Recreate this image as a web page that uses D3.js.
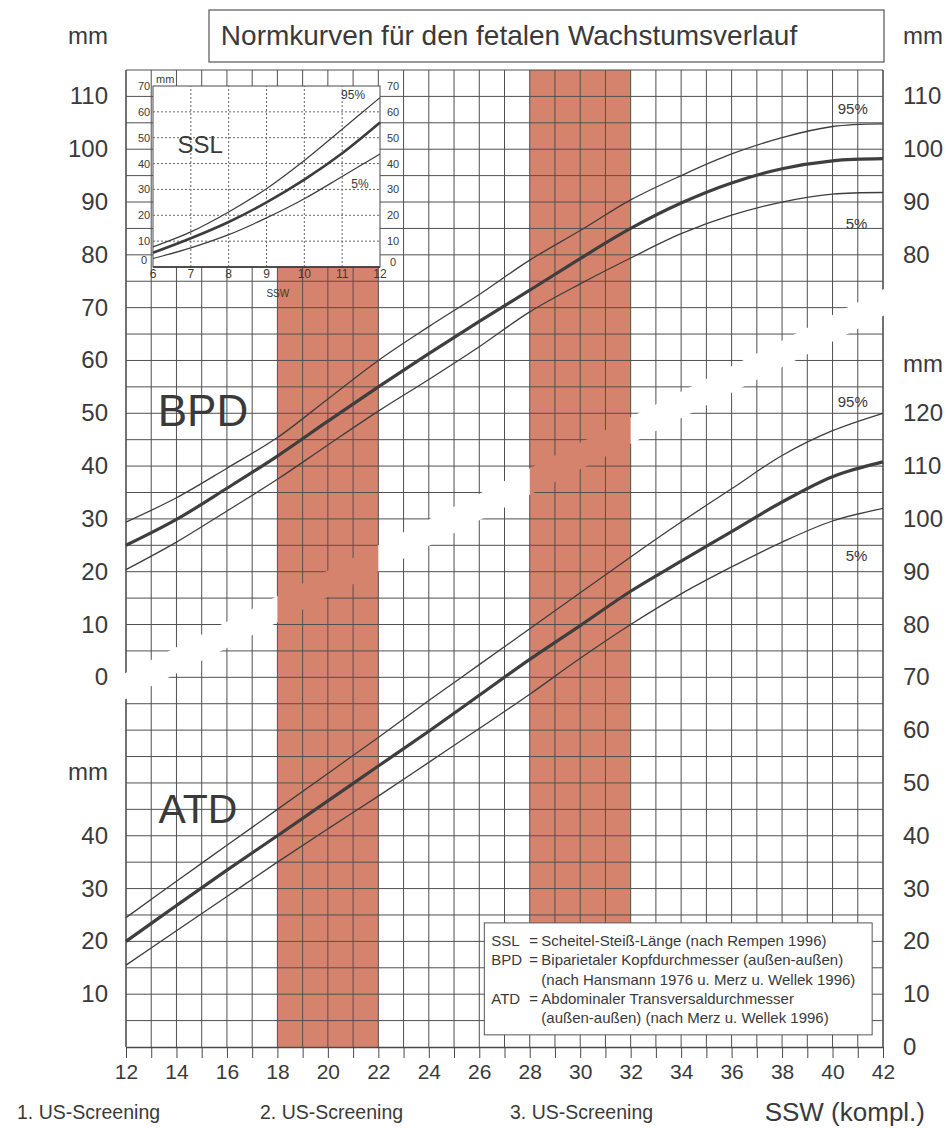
<!DOCTYPE html>
<html>
<head>
<meta charset="utf-8">
<script src="https://cdn.jsdelivr.net/npm/d3@7"></script>
<style>
  body { margin: 0; background: #fff; }
  svg text { font-family: "Liberation Sans", Arial, Helvetica, sans-serif; fill: #3a3a3a; }
</style>
</head>
<body>
<svg id="chart" width="951" height="1128"></svg>
<script>
// data (mm)
var weeks = [12, 14, 16, 18, 20, 22, 24, 26, 28, 30, 32, 34, 36, 38, 40, 42];

var bpd95 = [29.4, 34.0, 39.6, 45.4, 52.7, 60.0, 66.4, 72.5, 79.0, 84.6, 90.4, 95.0, 99.1, 102.2, 104.3, 104.8];
var bpd50 = [25.0, 29.9, 35.8, 41.9, 48.5, 55.0, 61.3, 67.4, 73.3, 79.3, 85.0, 89.8, 93.6, 96.3, 97.8, 98.2];
var bpd5  = [20.4, 25.6, 31.5, 37.5, 44.0, 50.4, 56.4, 62.6, 69.2, 74.5, 79.4, 84.0, 87.5, 90.0, 91.5, 91.8];

var atd95 = [24.5, 31.4, 38.2, 45.0, 51.8, 58.6, 65.6, 72.4, 79.2, 86.0, 92.8, 99.4, 105.7, 112.0, 116.7, 120.0];
var atd50 = [20.0, 26.8, 33.5, 40.0, 46.6, 53.2, 59.8, 66.6, 73.4, 79.8, 86.3, 92.0, 97.6, 103.2, 108.0, 110.8];
var atd5  = [15.5, 22.0, 28.5, 35.0, 41.3, 47.5, 53.9, 60.3, 66.8, 73.6, 80.0, 85.8, 90.9, 95.6, 99.6, 102.0];

var sslWeeks = [6, 7, 8, 9, 10, 11, 12];
var ssl95 = [7.8, 13.6, 21.3, 30.3, 41.2, 53.3, 65.5];
var ssl50 = [5.5, 11.1, 17.4, 25.0, 33.8, 44.0, 55.9];
var ssl5  = [3.3, 7.4, 12.5, 19.0, 26.4, 35.0, 43.7];

var bpdTicks = [0, 10, 20, 30, 40, 50, 60, 70, 80, 90, 100, 110];
var bpdTicksRight = [80, 90, 100, 110];
var atdTicksLeft = [10, 20, 30, 40];
var atdTicksRight = [0, 10, 20, 30, 40, 50, 60, 70, 80, 90, 100, 110, 120];
var weekLabels = [12, 14, 16, 18, 20, 22, 24, 26, 28, 30, 32, 34, 36, 38, 40, 42];
var sslTicks = [0, 10, 20, 30, 40, 50, 60, 70];

var screenings = [[18, 22], [28, 32]];
var screeningNames = ["1. US-Screening", "2. US-Screening", "3. US-Screening"];

var legendRows = [
  ["SSL", "=", "Scheitel-Steiß-Länge (nach Rempen 1996)"],
  ["BPD", "=", "Biparietaler Kopfdurchmesser (außen-außen)"],
  ["", "", "(nach Hansmann 1976 u. Merz u. Wellek 1996)"],
  ["ATD", "=", "Abdominaler Transversaldurchmesser"],
  ["", "", "(außen-außen) (nach Merz u. Wellek 1996)"]
];

var svg = d3.select("#chart");
var W = 951, H = 1128;

// one grid, ATD mm on it; BPD sits 70 mm higher
var x = d3.scaleLinear().domain([12, 42]).range([126, 883]);
var y = d3.scaleLinear().domain([0, 185]).range([1047, 70]);
var bpdShift = 70;
var yB = function (v) { return y(v + bpdShift); };

// inset scales
var xi = d3.scaleLinear().domain([6, 12]).range([153, 380]);
var yi = d3.scaleLinear().domain([0, 70]).range([267, 86]);

// the white diagonal gap that splits BPD and ATD parts of the grid
var gapFrom = [12, 68], gapTo = [42, 141.3], gapHalf = 2.5;

var defs = svg.append("defs");
var mask = defs.append("mask").attr("id", "gap")
  .attr("maskUnits", "userSpaceOnUse")
  .attr("x", 0).attr("y", 0).attr("width", W).attr("height", H);
mask.append("rect").attr("width", W).attr("height", H).attr("fill", "white");
mask.append("path").attr("fill", "black").attr("d",
  "M" + (x(gapFrom[0]) - 4) + "," + y(gapFrom[1] - gapHalf) +
  "L" + (x(gapTo[0]) + 4) + "," + y(gapTo[1] - gapHalf) +
  "L" + (x(gapTo[0]) + 4) + "," + y(gapTo[1] + gapHalf) +
  "L" + (x(gapFrom[0]) - 4) + "," + y(gapFrom[1] + gapHalf) + "Z");

// red screening bands
var bandTop1 = 147.9;  // just under the SSL inset
var legendTop = 23.5, legendBottom = 2.3, legendLeft = 26.2, legendRight = 41.57;
svg.append("rect")
  .attr("x", x(screenings[0][0])).attr("width", x(screenings[0][1]) - x(screenings[0][0]))
  .attr("y", y(bandTop1)).attr("height", y(0) - y(bandTop1))
  .attr("fill", "#d6836d");
svg.append("rect")
  .attr("x", x(screenings[1][0])).attr("width", x(screenings[1][1]) - x(screenings[1][0]))
  .attr("y", y(185)).attr("height", y(legendTop) - y(185))
  .attr("fill", "#d6836d");

// grid
var grid = svg.append("g").attr("mask", "url(#gap)").attr("stroke", "#505050").attr("stroke-width", 1);
grid.selectAll("line.v").data(d3.range(12, 43)).join("line").attr("class", "v")
  .attr("x1", function (d) { return x(d); }).attr("x2", function (d) { return x(d); })
  .attr("y1", y(0)).attr("y2", y(185))
  .attr("stroke-width", function (d) { return d === 12 || d === 42 ? 1.6 : 1; });
grid.selectAll("line.h").data(d3.range(5, 186, 5)).join("line").attr("class", "h")
  .attr("x1", x(12)).attr("x2", x(42))
  .attr("y1", function (d) { return y(d); }).attr("y2", function (d) { return y(d); });

// SSL inset
var inset = svg.append("g");
inset.append("rect").attr("x", xi(6)).attr("y", yi(70)).attr("width", xi(12) - xi(6)).attr("height", yi(0) - yi(70))
  .attr("fill", "#fff").attr("stroke", "#4a4a4a").attr("stroke-width", 1);
inset.selectAll("line.ih").data([10, 20, 30, 40, 50, 60]).join("line").attr("class", "ih")
  .attr("x1", xi(6)).attr("x2", xi(12)).attr("y1", function (d) { return yi(d); }).attr("y2", function (d) { return yi(d); })
  .attr("stroke", "#666").attr("stroke-dasharray", "2,2");
inset.selectAll("line.iv").data([7, 8, 9, 10, 11]).join("line").attr("class", "iv")
  .attr("x1", function (d) { return xi(d); }).attr("x2", function (d) { return xi(d); }).attr("y1", yi(0)).attr("y2", yi(70))
  .attr("stroke", "#666").attr("stroke-dasharray", "2,2");
inset.append("line").attr("x1", xi(6)).attr("x2", xi(12)).attr("y1", yi(0)).attr("y2", yi(0))
  .attr("stroke", "#333").attr("stroke-width", 1.4);

var sslLine = d3.line().x(function (d) { return xi(d[0]); }).y(function (d) { return yi(d[1]); }).curve(d3.curveCatmullRom);
[[ssl95, 1.2], [ssl50, 2.6], [ssl5, 1.2]].forEach(function (s) {
  inset.append("path").attr("d", sslLine(sslWeeks.map(function (w, i) { return [w, s[0][i]]; })))
    .attr("fill", "none").attr("stroke", "#3c3c3c").attr("stroke-width", s[1]);
});
inset.selectAll("text.il").data(sslTicks).join("text").attr("class", "il")
  .attr("x", xi(6) - 9).attr("y", function (d) { return d === 0 ? yi(d) - 3 : yi(d) + 4; })
  .attr("text-anchor", "middle").attr("font-size", 11).text(function (d) { return d; });
inset.selectAll("text.ir").data(sslTicks).join("text").attr("class", "ir")
  .attr("x", xi(12) + 13).attr("y", function (d) { return d === 0 ? yi(d) - 1 : yi(d) + 4; })
  .attr("text-anchor", "middle").attr("font-size", 11).text(function (d) { return d; });
inset.selectAll("text.ix").data(sslWeeks).join("text").attr("class", "ix")
  .attr("x", function (d) { return xi(d); }).attr("y", yi(0) + 11)
  .attr("text-anchor", "middle").attr("font-size", 12).text(function (d) { return d; });
inset.append("text").attr("x", xi(6) + 3).attr("y", yi(70) - 3).attr("font-size", 11).text("mm");
inset.append("text").attr("x", xi(9.3)).attr("y", yi(0) + 30).attr("text-anchor", "middle").attr("font-size", 10).text("SSW");
inset.append("text").attr("x", xi(7.25)).attr("y", yi(44)).attr("text-anchor", "middle").attr("font-size", 24).attr("fill", "#444").text("SSL");
inset.append("text").attr("x", xi(11.29)).attr("y", yi(65)).attr("text-anchor", "middle").attr("font-size", 12).text("95%");
inset.append("text").attr("x", xi(11.47)).attr("y", yi(30.5)).attr("text-anchor", "middle").attr("font-size", 12).text("5%");

// main curves
function drawSet(vals, ys) {
  var ln = d3.line().x(function (d) { return x(d[0]); }).y(function (d) { return ys(d[1]); }).curve(d3.curveCatmullRom);
  [[vals[0], 1.3], [vals[1], 3.2], [vals[2], 1.3]].forEach(function (s) {
    svg.append("path").attr("d", ln(weeks.map(function (w, i) { return [w, s[0][i]]; })))
      .attr("fill", "none").attr("stroke", "#3e3e3e").attr("stroke-width", s[1]);
  });
}
drawSet([bpd95, bpd50, bpd5], yB);
drawSet([atd95, atd50, atd5], y);

svg.append("text").attr("x", x(15.05)).attr("y", yB(47.5)).attr("text-anchor", "middle").attr("font-size", 44).attr("fill", "#474747").text("BPD");
svg.append("text").attr("x", x(14.85)).attr("y", y(42.5)).attr("text-anchor", "middle").attr("font-size", 41).attr("fill", "#474747").text("ATD");

[[yB(107.6), "95%"], [yB(85.9), "5%"], [y(122.2), "95%"], [y(92.9), "5%"]].forEach(function (p) {
  svg.append("text").attr("x", p[1] === "95%" ? x(40.8) : x(40.95)).attr("y", p[0] + 5)
    .attr("text-anchor", "middle").attr("font-size", 15).text(p[1]);
});

// legend
var lg = svg.append("g");
lg.append("rect").attr("x", x(legendLeft)).attr("y", y(legendTop))
  .attr("width", x(legendRight) - x(legendLeft)).attr("height", y(legendBottom) - y(legendTop))
  .attr("fill", "#fff").attr("stroke", "#555").attr("stroke-width", 1);
legendRows.forEach(function (r, i) {
  var by = y(legendTop) + 23 + i * 19.4;
  lg.append("text").attr("x", x(legendLeft) + 7).attr("y", by).attr("font-size", 15).attr("fill", "#555").text(r[0]);
  lg.append("text").attr("x", x(legendLeft) + 45).attr("y", by).attr("font-size", 15).attr("fill", "#555").text(r[1]);
  lg.append("text").attr("x", x(legendLeft) + 57).attr("y", by).attr("font-size", 15).attr("fill", "#555")
    .attr("textLength", null).text(r[2]);
});

// axes
var xAxis = d3.axisBottom(x).tickValues(d3.range(12, 43)).tickSize(11).tickSizeOuter(0)
  .tickFormat(function (d) { return weekLabels.indexOf(d) >= 0 ? d : ""; }).tickPadding(6);
var gx = svg.append("g").attr("transform", "translate(0," + y(0) + ")").call(xAxis);
gx.select(".domain").attr("stroke", "#4a4a4a").attr("stroke-width", 1.3);
gx.selectAll(".tick line").attr("stroke", "#4a4a4a");
gx.selectAll("text").attr("font-size", 21).attr("font-family", "Liberation Sans, Arial, sans-serif").attr("fill", "#3a3a3a");

function sideLabels(vals, ys, xpos, anchor) {
  svg.append("g").selectAll("text").data(vals).join("text")
    .attr("x", xpos).attr("y", function (d) { return ys(d) + 8; })
    .attr("text-anchor", anchor).attr("font-size", 24).text(function (d) { return d; });
}
sideLabels(bpdTicks, yB, 108, "end");
sideLabels(atdTicksLeft, y, 108, "end");
sideLabels(bpdTicksRight, yB, 903, "start");
sideLabels(atdTicksRight, y, 903, "start");

svg.append("text").attr("x", 108).attr("y", 44).attr("text-anchor", "end").attr("font-size", 24).text("mm");
svg.append("text").attr("x", 903).attr("y", 44).attr("font-size", 24).text("mm");
svg.append("text").attr("x", 108).attr("y", y(51.9) + 7).attr("text-anchor", "end").attr("font-size", 24).text("mm");
svg.append("text").attr("x", 903).attr("y", y(129.2) + 7).attr("font-size", 24).text("mm");

// title
svg.append("rect").attr("x", 209).attr("y", 10).attr("width", 675).attr("height", 52)
  .attr("fill", "#fff").attr("stroke", "#555").attr("stroke-width", 1.2);
svg.append("text").attr("x", 509).attr("y", 45).attr("text-anchor", "middle").attr("font-size", 28).text("Normkurven für den fetalen Wachstumsverlauf");

// bottom notes
[[17, screeningNames[0]], [260, screeningNames[1]], [510, screeningNames[2]]].forEach(function (p) {
  svg.append("text").attr("x", p[0]).attr("y", 1119).attr("font-size", 19.5).text(p[1]);
});
svg.append("text").attr("x", 925).attr("y", 1121).attr("text-anchor", "end").attr("font-size", 26).text("SSW (kompl.)");
</script>
</body>
</html>
